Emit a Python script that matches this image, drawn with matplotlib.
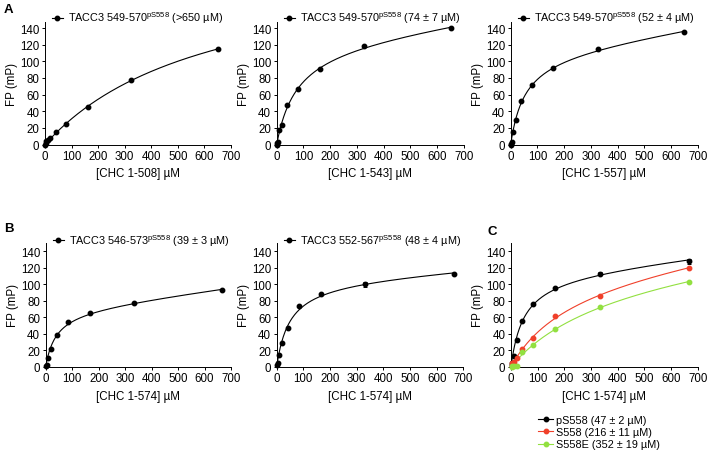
import numpy as np
import matplotlib
matplotlib.use('Agg')
import matplotlib.pyplot as plt

plt.rcParams['font.family'] = ['Liberation Sans', 'DejaVu Sans']
plt.rcParams['mathtext.fontset'] = 'custom'
plt.rcParams['mathtext.rm'] = 'Liberation Sans'
plt.rcParams['axes.linewidth'] = 0.7

# concentrations (uM)
conc_a = [0, 2.5, 5, 10, 20, 40, 80, 160, 325, 650]
conc_b = [2.6, 5.2, 10.4, 20.8, 41.6, 83.3, 166.5, 333, 666]

# panel A
fp_508 = [0, 2, 4, 5, 8, 15, 25, 45, 77, 115]
fp_543 = [0, 2, 3, 17, 23, 47, 67, 91, 118, 140]
fp_557 = [0, 1, 3, 15, 30, 52, 72, 92, 115, 135]
# panel B
fp_546 = [1, 2, 11, 22, 38, 54, 65, 77, 93]
fp_552 = [2, 5, 14, 29, 47, 73, 88, 100, 113]
err_552 = [0, 0, 0, 0, 0, 0, 0, 3, 0]
# panel C
fp_ps558 = [2, 5, 13, 32, 56, 76, 96, 113, 128]
err_ps558 = [0, 0, 0, 0, 0, 0, 0, 1.5, 3]
fp_s558 = [1, 4.5, 6, 10, 21, 35, 61, 86, 120]
fp_s558e = [0, 0.5, 1, 1.2, 18, 26, 46, 72, 103]

# reported Kd values used for the fitted curves
kd_508, kd_543, kd_557 = 650, 74, 52
kd_546, kd_552 = 39, 48
kd_ps558, kd_s558, kd_s558e = 47, 216, 352

RED = '#f0402a'
GREEN = '#92e040'
W, H = 709, 456
FS = 8.3
LFS = 7.8


def fit_curve(x, y, kd):
    x = np.asarray(x, float)
    y = np.asarray(y, float)
    A = np.column_stack([x / (kd + x), x])
    coef, *_ = np.linalg.lstsq(A, y, rcond=None)
    xs = np.linspace(0, x.max(), 300)
    return xs, coef[0] * xs / (kd + xs) + coef[1] * xs


def make_axes(x0, x1, ytop, ybot, ymax, xlabel):
    ax = fig.add_axes([x0 / W, 1 - ybot / H, (x1 - x0) / W, (ybot - ytop) / H])
    ax.set_xlim(0, 700)
    ax.set_ylim(0, ymax)
    ax.set_xticks(range(0, 701, 100))
    ax.set_yticks(range(0, 141, 20))
    for s in ['top', 'right']:
        ax.spines[s].set_visible(False)
    ax.tick_params(direction='out', length=2.5, width=0.7, pad=1.5, labelsize=FS)
    ax.set_xlabel(xlabel, fontsize=FS)
    ax.set_ylabel('FP (mP)', fontsize=FS)
    ax.xaxis.set_label_coords(0.5, -23 / (ybot - ytop))
    ax.yaxis.set_label_coords(-27 / (x1 - x0), 0.5)
    return ax


def plot_series(ax, x, y, kd, color, label, yerr=None):
    xs, ys = fit_curve(x, y, kd)
    ax.plot(xs, ys, color=color, lw=0.8, clip_on=False)
    if yerr is not None:
        ax.errorbar(x, y, yerr=yerr, fmt='none', ecolor=color, elinewidth=0.7,
                    capsize=1.5, capthick=0.7, clip_on=False)
    ax.plot(x, y, 'o', color=color, ms=3.2, clip_on=False, zorder=3)
    ax.plot([], [], '-o', color=color, ms=3.2, lw=0.8, label=label)


def top_legend(ax, x0, x1, dy, ybot, ytop):
    ax.legend(loc='lower left', bbox_to_anchor=(7 / (x1 - x0), 1 + dy / (ybot - ytop)),
              frameon=False, fontsize=LFS, handlelength=1.0, handletextpad=0.5,
              borderpad=0, borderaxespad=0)


fig = plt.figure(figsize=(W / 100, H / 100), dpi=100)

# row A
ax = make_axes(45, 231, 23.3, 145.5, 147, '[CHC 1-508] µM')
plot_series(ax, conc_a, fp_508, kd_508, 'black', r'TACC3 549-570$^{\mathrm{pS558}}$ (>650 µM)')
top_legend(ax, 45, 231, -3, 145.5, 23.3)

ax = make_axes(276.7, 464, 23.3, 145.5, 147, '[CHC 1-543] µM')
plot_series(ax, conc_a, fp_543, kd_543, 'black', r'TACC3 549-570$^{\mathrm{pS558}}$ (74 ± 7 µM)')
top_legend(ax, 276.7, 464, -3, 145.5, 23.3)

ax = make_axes(510.7, 697.7, 23.3, 145.5, 147, '[CHC 1-557] µM')
plot_series(ax, conc_a, fp_557, kd_557, 'black', r'TACC3 549-570$^{\mathrm{pS558}}$ (52 ± 4 µM)')
top_legend(ax, 510.7, 697.7, -3, 145.5, 23.3)

# row B
ax = make_axes(45.7, 231, 244, 367.7, 150, '[CHC 1-574] µM')
plot_series(ax, conc_b, fp_546, kd_546, 'black', r'TACC3 546-573$^{\mathrm{pS558}}$ (39 ± 3 µM)')
top_legend(ax, 45.7, 231, -5, 367.7, 244)

ax = make_axes(276.7, 463.3, 244, 367.7, 150, '[CHC 1-574] µM')
plot_series(ax, conc_b, fp_552, kd_552, 'black', r'TACC3 552-567$^{\mathrm{pS558}}$ (48 ± 4 µM)',
            yerr=err_552)
top_legend(ax, 276.7, 463.3, -5, 367.7, 244)

# panel C
ax = make_axes(511, 697.7, 244, 367.7, 150, '[CHC 1-574] µM')
plot_series(ax, conc_b, fp_ps558, kd_ps558, 'black', 'pS558 (47 ± 2 µM)', yerr=err_ps558)
plot_series(ax, conc_b, fp_s558, kd_s558, RED, 'S558 (216 ± 11 µM)')
plot_series(ax, conc_b, fp_s558e, kd_s558e, GREEN, 'S558E (352 ± 19 µM)')
ax.legend(loc='upper left', bbox_to_anchor=(27 / 186.7, -(416 - 367.7) / 123.7),
          frameon=False, fontsize=LFS, handlelength=1.4, handletextpad=0.3,
          labelspacing=0.2, borderpad=0, borderaxespad=0)

# panel letters
fig.text(4 / W, 1 - 10 / H, 'A', fontsize=9.5, fontweight='bold', va='center')
fig.text(4 / W, 1 - 229 / H, 'B', fontsize=9.5, fontweight='bold', va='center')
fig.text(487 / W, 1 - 232 / H, 'C', fontsize=9.5, fontweight='bold', va='center')

fig.savefig('out.png', dpi=100)
